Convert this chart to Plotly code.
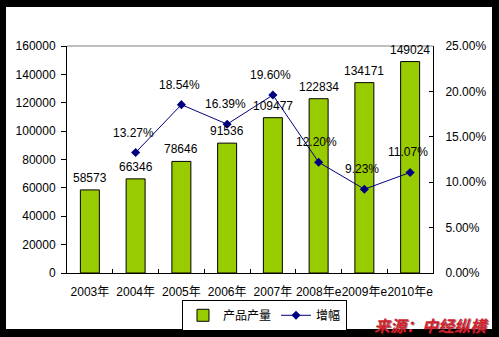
import plotly.graph_objects as go

categories = ["2003年", "2004年", "2005年", "2006年", "2007年", "2008年e", "2009年e", "2010年e"]
output_values = [58573, 66346, 78646, 91536, 109477, 122834, 134171, 149024]
growth_categories = categories[1:]
growth_values = [0.1327, 0.1854, 0.1639, 0.1960, 0.1220, 0.0923, 0.1107]
left_ticks = [0, 20000, 40000, 60000, 80000, 100000, 120000, 140000, 160000]
right_ticks = [0, 0.05, 0.10, 0.15, 0.20, 0.25]

FONT = "Liberation Sans, Arial, Noto Sans CJK SC, sans-serif"
CJK = "Noto Sans CJK SC, Liberation Sans, sans-serif"

fig = go.Figure()
fig.add_trace(go.Bar(
    x=categories, y=output_values, name="产品产量",
    marker=dict(color="#99CC00", line=dict(color="black", width=1)),
    width=0.415,
))
fig.add_trace(go.Scatter(
    x=growth_categories, y=growth_values, name="增幅", yaxis="y2",
    mode="lines+markers",
    line=dict(color="#000080", width=1),
    marker=dict(symbol="diamond", size=7, color="#000080"),
))

annotations = []
for c, v in zip(categories, output_values):
    annotations.append(dict(x=c, y=v, xref="x", yref="y", text=str(v), showarrow=False,
                            yanchor="bottom", yshift=3, font=dict(family=FONT, size=12, color="black")))
for c, v in zip(growth_categories, growth_values):
    annotations.append(dict(x=c, y=v, xref="x", yref="y2", text=f"{v*100:.2f}%", showarrow=False,
                            yanchor="bottom", xshift=-2, yshift=11, font=dict(family=FONT, size=12, color="black")))
annotations.append(dict(x=1.1585, y=-0.229, xref="paper", yref="paper", text="<i>来源：中经纵横</i>",
                        showarrow=False, xanchor="right", yanchor="middle",
                        font=dict(family=CJK, size=16, color="#D0222E", weight=700,
                                  shadow="1px 1px 0px rgba(90,0,0,0.55)")))

fig.update_layout(
    width=499, height=337,
    margin=dict(l=67, r=66, t=46, b=64, autoexpand=False),
    paper_bgcolor="black", plot_bgcolor="white",
    font=dict(family=FONT, size=12, color="black"),
    showlegend=True,
    legend=dict(orientation="h", x=0.5396, xanchor="center", y=-0.118, yanchor="top",
                bordercolor="black", borderwidth=1, bgcolor="white",
                font=dict(family=CJK, size=12), itemwidth=30, tracegroupgap=0,
                entrywidthmode="pixels"),
    xaxis=dict(type="category", showline=True, linecolor="black", linewidth=1,
               ticks="inside", ticklen=4, tickcolor="black", tickson="boundaries",
               showgrid=False, ticklabelstandoff=8, tickangle=0, automargin=False,
               tickfont=dict(family=FONT, size=12)),
    yaxis=dict(range=[0, 160000], tickvals=left_ticks, showline=True, linecolor="black", linewidth=1,
               ticks="outside", ticklen=5, tickcolor="black", showgrid=False, zeroline=False,
               tickformat="d", ticklabelstandoff=3, automargin=False),
    yaxis2=dict(range=[0, 0.25], tickvals=right_ticks, overlaying="y", side="right",
                showline=True, linecolor="black", linewidth=1, ticks="inside", ticklen=4,
                tickcolor="black", showgrid=False, zeroline=False, tickformat=".2%",
                ticklabelstandoff=9, automargin=False),
    bargap=0.5,
    annotations=annotations,
    shapes=[
        dict(type="rect", xref="paper", yref="paper", x0=-0.16667, x1=1.1612, y0=-0.2467, y1=1.17181,
             fillcolor="white", line=dict(width=0), layer="below"),
        dict(type="line", xref="paper", yref="paper", x0=0, x1=1, y0=1, y1=1,
             line=dict(color="#808080", width=1), layer="above"),
    ],
)

fig.write_html("out.html")
